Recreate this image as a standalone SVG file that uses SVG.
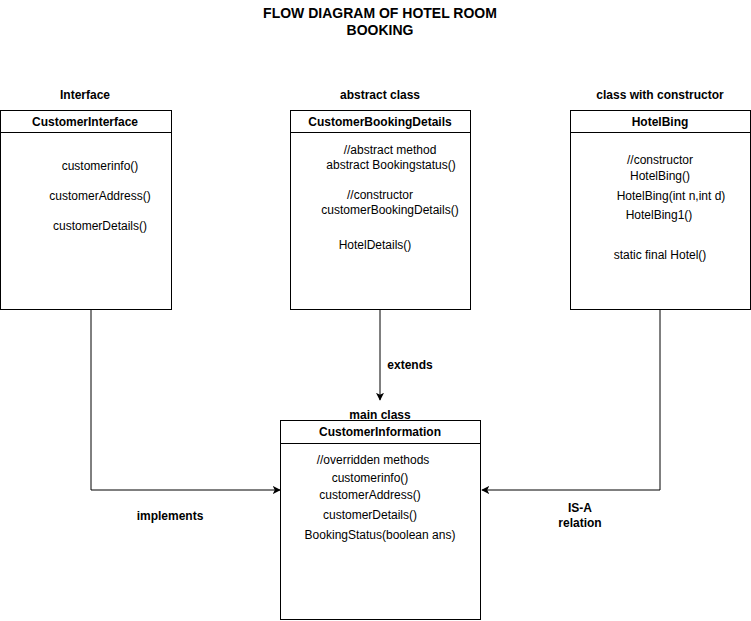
<svg xmlns="http://www.w3.org/2000/svg" width="751" height="621" viewBox="0 0 751 621">
<style>
text{font-family:"Liberation Sans",Arial,sans-serif;font-size:12px;fill:#000;text-anchor:middle}
.b{font-weight:bold}
.t{font-weight:bold;font-size:14px}
.box{fill:#fff;stroke:#000;stroke-width:1}
.edge{fill:none;stroke:#000;stroke-width:1}
</style>
<defs>
<marker id="arr" viewBox="0 0 10 10" refX="9" refY="5" markerWidth="8" markerHeight="8" markerUnits="userSpaceOnUse" orient="auto">
<path d="M0,0 L10,5 L0,10 L2.5,5 Z" fill="#000"/>
</marker>
</defs>
<rect width="751" height="621" fill="#fff"/>
<g id="title">
<text class="t" x="380" y="18">FLOW DIAGRAM OF HOTEL ROOM</text>
<text class="t" x="380" y="35">BOOKING</text>
</g>
<g id="connectors">
<path class="edge" d="M91,310 V490 H280" marker-end="url(#arr)"/>
<path class="edge" d="M380,310 V400" marker-end="url(#arr)"/>
<path class="edge" d="M660,310 V490 H482" marker-end="url(#arr)"/>
<text class="b" x="410" y="369">extends</text>
<text class="b" x="170" y="520">implements</text>
<text class="b" x="580" y="512">IS-A</text>
<text class="b" x="580" y="527">relation</text>
</g>
<g id="customerInterface">
<text class="b" x="85" y="99">Interface</text>
<rect class="box" x="0.5" y="110.5" width="171" height="199"/>
<line class="edge" x1="0.5" y1="132.5" x2="171.5" y2="132.5"/>
<text class="b" x="85" y="126">CustomerInterface</text>
<text x="100" y="170">customerinfo()</text>
<text x="100" y="200">customerAddress()</text>
<text x="100" y="230">customerDetails()</text>
</g>
<g id="customerBookingDetails">
<text class="b" x="380" y="99">abstract class</text>
<rect class="box" x="290.5" y="110.5" width="180" height="199"/>
<line class="edge" x1="290.5" y1="132.5" x2="470.5" y2="132.5"/>
<text class="b" x="380" y="126">CustomerBookingDetails</text>
<text x="390" y="154">//abstract method</text>
<text x="391" y="169">abstract Bookingstatus()</text>
<text x="380" y="199">//constructor</text>
<text x="390" y="214">customerBookingDetails()</text>
<text x="375" y="249">HotelDetails()</text>
</g>
<g id="hotelBing">
<text class="b" x="660" y="99">class with constructor</text>
<rect class="box" x="570.5" y="110.5" width="180" height="199"/>
<line class="edge" x1="570.5" y1="132.5" x2="750.5" y2="132.5"/>
<text class="b" x="660" y="126">HotelBing</text>
<text x="660" y="164">//constructor</text>
<text x="660" y="180">HotelBing()</text>
<text x="671" y="200">HotelBing(int n,int d)</text>
<text x="659" y="219">HotelBing1()</text>
<text x="660" y="259">static final Hotel()</text>
</g>
<g id="customerInformation">
<text class="b" x="380" y="419">main class</text>
<rect class="box" x="280.5" y="420.5" width="200" height="199"/>
<line class="edge" x1="280.5" y1="443.5" x2="480.5" y2="443.5"/>
<text class="b" x="380" y="436">CustomerInformation</text>
<text x="373" y="464">//overridden methods</text>
<text x="370" y="482">customerinfo()</text>
<text x="370" y="499">customerAddress()</text>
<text x="370" y="519">customerDetails()</text>
<text x="380" y="539">BookingStatus(boolean ans)</text>
</g>
</svg>
